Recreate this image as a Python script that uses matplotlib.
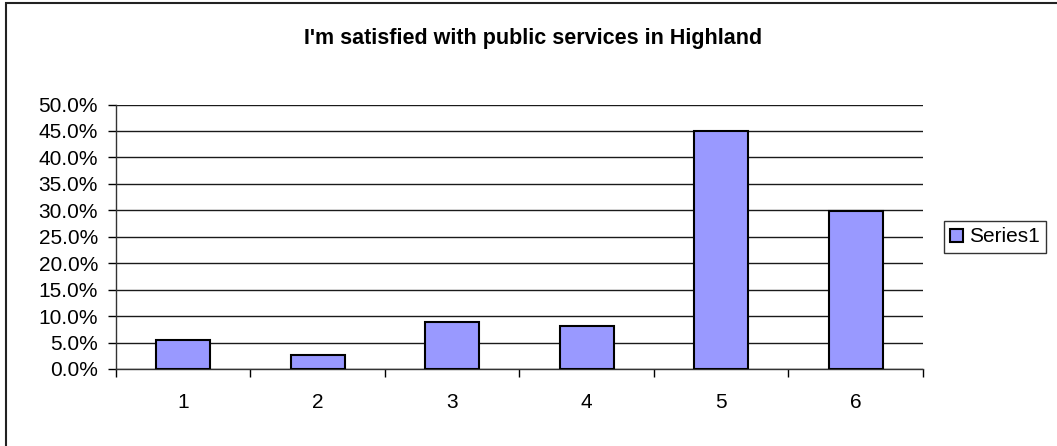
import numpy as np
from matplotlib import pyplot as plt
from matplotlib import patches
from matplotlib.ticker import PercentFormatter

plt.rcParams['font.family'] = ['Liberation Sans', 'DejaVu Sans']

# survey answers (share of responses, %)
categories = ['1', '2', '3', '4', '5', '6']
values = [5.5, 2.7, 8.8, 8.2, 45.0, 29.9]
series_name = 'Series1'
title = "I'm satisfied with public services in Highland"

W, H = 1057, 446
fig = plt.figure(figsize=(W / 100, H / 100), dpi=100)
ax = fig.add_axes([116 / W, 1 - 369 / H, 807 / W, (369 - 104.5) / H])

x = np.arange(1, len(categories) + 1)
ax.bar(x, values, width=0.4, color='#9999FF', edgecolor='black',
       linewidth=1.5, zorder=3, label=series_name)

ax.set_xlim(0.5, len(categories) + 0.5)
ax.set_ylim(0, 50)
ax.set_yticks(np.arange(0, 50.1, 5))
ax.yaxis.set_major_formatter(PercentFormatter(decimals=1))
ax.set_xticks(x)
ax.set_xticklabels(categories)
ax.set_xticks(np.arange(0.5, len(categories) + 1), minor=True)

ax.grid(axis='y', color='#1a1a1a', linewidth=1, zorder=0)
ax.tick_params(axis='y', direction='out', length=6, width=1, pad=7,
               labelsize=15, colors='black')
ax.tick_params(axis='x', which='major', length=0, pad=17, labelsize=15)
ax.tick_params(axis='x', which='minor', direction='out', length=6, width=1)

for side in ['top', 'right']:
    ax.spines[side].set_visible(False)
for side in ['left', 'bottom']:
    ax.spines[side].set_color('#333333')
    ax.spines[side].set_linewidth(1)

fig.text(533.5 / W, 1 - 38.7 / H, title, ha='center', va='center',
         fontsize=15.5, fontweight='bold')

leg = fig.legend(loc='center left', bbox_to_anchor=(944 / W, 1 - 237 / H),
                 fontsize=15, frameon=True, fancybox=False, borderaxespad=0,
                 handlelength=0.6, handleheight=0.6, handletextpad=0.3,
                 borderpad=0.3)
leg.get_frame().set_edgecolor('black')
leg.get_frame().set_linewidth(1)

# outer chart border (only left/top visible in the picture)
fig.patches.append(patches.Rectangle((6 / W, -0.1), 1.2, 1.1 - 3 / H,
                                     transform=fig.transFigure, fill=False,
                                     edgecolor='#222222', linewidth=1.5))

fig.savefig('out.png', dpi=100)
